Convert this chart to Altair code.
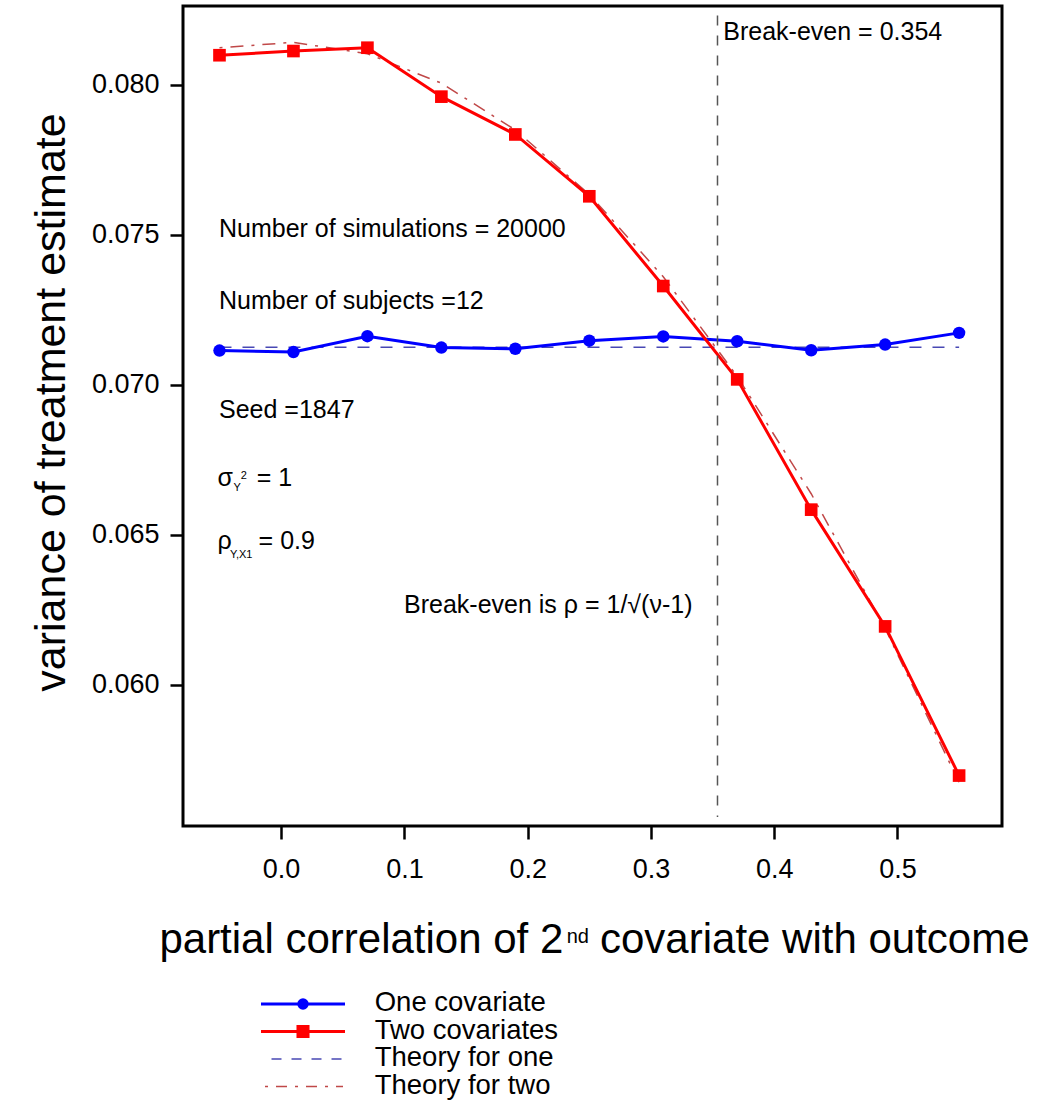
import altair as alt
import pandas as pd

# ---- data ----
rho2 = [-0.05, 0.01, 0.07, 0.13, 0.19, 0.25, 0.31, 0.37, 0.43, 0.49, 0.55]
var_one = [0.07114, 0.07109, 0.07162, 0.07124, 0.07120, 0.07147, 0.07161, 0.07145, 0.07115, 0.07134, 0.07173]
var_two = [0.08098, 0.08112, 0.08123, 0.07960, 0.07834, 0.07628, 0.07329, 0.07018, 0.06584, 0.06195, 0.05698]
theory_one = [0.07125, 0.07125, 0.07125, 0.07125, 0.07125, 0.07125, 0.07125, 0.07125, 0.07125, 0.07125, 0.07125]
theory_two = [0.08123, 0.08141, 0.08103, 0.08005, 0.07849, 0.07634, 0.07360, 0.07028, 0.06637, 0.06188, 0.05675]
break_even = 0.354
break_even_span = [0.0556, 0.0823]
x_ticks = [0.0, 0.1, 0.2, 0.3, 0.4, 0.5]
y_ticks = [0.060, 0.065, 0.070, 0.075, 0.080]
legend_labels = ["One covariate", "Two covariates", "Theory for one", "Theory for two"]

FONT = "Liberation Sans"

df = pd.DataFrame({"rho": rho2, "one": var_one, "two": var_two,
                   "t_one": theory_one, "t_two": theory_two})
be_df = pd.DataFrame({"rho": [break_even], "lo": [break_even_span[0]], "hi": [break_even_span[1]]})

xscale = alt.Scale(domain=[-0.0796, 0.5848], nice=False, zero=False)
yscale = alt.Scale(domain=[0.0553, 0.08262], nice=False, zero=False)

xaxis = alt.Axis(values=x_ticks, format=".1f", title=None, grid=False, domain=False,
                 labelFontSize=27, labelFont=FONT, labelColor="black", tickColor="black",
                 tickSize=13, tickWidth=2.5, labelPadding=17, labelFlush=False, labelOverlap=False)
yaxis = alt.Axis(values=y_ticks, format=".3f", title="variance of treatment estimate", grid=False,
                 domain=False, labelFontSize=27, labelFont=FONT, labelColor="black",
                 tickColor="black", tickSize=13, tickWidth=2.5, labelPadding=11,
                 labelFlush=False, labelOverlap=False,
                 titleFontSize=43, titleFont=FONT, titleFontWeight="normal", titleColor="black",
                 titleAngle=270, titleX=-119, titleY=396, titleAlign="center",
                 titleBaseline="alphabetic")

X = alt.X("rho:Q", scale=xscale, axis=xaxis)


def Y(field):
    return alt.Y(f"{field}:Q", scale=yscale, axis=yaxis, title="variance of treatment estimate")


base = alt.Chart(df)

t_one = base.mark_line(color="#4848b4", strokeWidth=1.5, strokeDash=[12, 11]).encode(x=X, y=Y("t_one"))
t_two = base.mark_line(color="#c04848", strokeWidth=1.5, strokeDash=[3, 8, 13, 8]).encode(x=X, y=Y("t_two"))
l_one = base.mark_line(color="#0000ff", strokeWidth=3).encode(x=X, y=Y("one"))
p_one = base.mark_point(shape="circle", filled=True, size=155, color="#0000ff", opacity=1).encode(x=X, y=Y("one"))
l_two = base.mark_line(color="#ff0000", strokeWidth=3).encode(x=X, y=Y("two"))
p_two = base.mark_point(shape="square", filled=True, size=160, color="#ff0000", opacity=1).encode(x=X, y=Y("two"))
be_rule = alt.Chart(be_df).mark_rule(color="#555555", strokeWidth=1.5, strokeDash=[10, 10]).encode(
    x=X, y=Y("hi"), y2="lo:Q")


def txt(s, x, y, size=25, align="left"):
    return alt.Chart(df).transform_filter("datum.rho == -0.05").mark_text(
        text=s, align=align, baseline="alphabetic", fontSize=size, font=FONT, color="black"
    ).encode(x=alt.value(x), y=alt.value(y))


annotations = [
    txt("Number of simulations = 20000", 36, 230.7),
    txt("Number of subjects =12", 36, 303.3),
    txt("Seed =1847", 36, 412.3),
    txt("σ", 34.5, 480),
    txt("Y", 50.6, 485, size=11),
    txt("2", 57.7, 473, size=11),
    txt("= 1", 73.8, 480),
    txt("ρ", 34.5, 542.6),
    txt("Y,X1", 47, 551.5, size=11),
    txt("= 0.9", 75.6, 542.6),
    txt("Break-even is ρ = 1/√(ν-1)", 221, 607),
    txt("Break-even = 0.354", 540.3, 34),
    # x-axis title with superscript
    txt("partial correlation of 2", 380.3, 947.3, size=42, align="right"),
    txt("nd", 383.7, 936.7, size=20),
    txt("covariate with outcome", 417, 947.3, size=42),
]

# ---- legend (below the plot) ----
one_row = alt.Chart(df).transform_filter("datum.rho == -0.05")
leg = [
    one_row.mark_rule(color="#0000ff", strokeWidth=3).encode(x=alt.value(78), x2=alt.value(162), y=alt.value(998)),
    one_row.mark_point(shape="circle", filled=True, size=130, color="#0000ff", opacity=1).encode(x=alt.value(120), y=alt.value(998)),
    one_row.mark_rule(color="#ff0000", strokeWidth=3).encode(x=alt.value(78), x2=alt.value(162), y=alt.value(1025.5)),
    one_row.mark_point(shape="square", filled=True, size=170, color="#ff0000", opacity=1).encode(x=alt.value(120), y=alt.value(1025.5)),
    one_row.mark_rule(color="#4848b4", strokeWidth=1.5, strokeDash=[10, 10]).encode(x=alt.value(88.5), x2=alt.value(160), y=alt.value(1053)),
    one_row.mark_rule(color="#c04848", strokeWidth=1.5, strokeDash=[3, 8, 11, 8]).encode(x=alt.value(82), x2=alt.value(160), y=alt.value(1080.5)),
    txt(legend_labels[0], 191.7, 1005, size=27.5),
    txt(legend_labels[1], 191.7, 1032.5, size=27.5),
    txt(legend_labels[2], 191.7, 1060, size=27.5),
    txt(legend_labels[3], 191.7, 1087.5, size=27.5),
]

chart = alt.layer(t_one, t_two, l_one, p_one, l_two, p_two, be_rule, *annotations, *leg).properties(
    width=819, height=820,
    autosize=alt.AutoSizeParams(type="none"),
    padding={"left": 183, "top": 6, "right": 39, "bottom": 274},
).configure(
    font=FONT, background="white",
    view=alt.ViewConfig(stroke="black", strokeWidth=3),
)

chart.save("out.html", embed_options={"renderer": "svg", "actions": False})
